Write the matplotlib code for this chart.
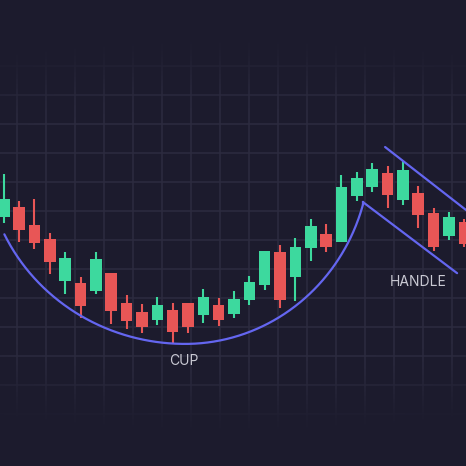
import numpy as np
import matplotlib
matplotlib.use("Agg")
import matplotlib.pyplot as plt

# candle data (price units)
opens = [77.7, 81.1, 75.1, 70.1, 55.7, 54.9, 52.2, 58.3, 48.1, 45.1, 42.2, 45.8, 48.2, 44.1, 47.3, 44.3,
         49.2, 54.2, 65.8, 57.2, 67.0, 71.8, 69.0, 85.1, 88.1, 93.0, 83.7, 86.1, 79.0, 71.2, 76.0]
highs = [92.6, 83.3, 84.0, 72.3, 65.7, 57.2, 65.7, 58.3, 50.8, 47.8, 50.1, 48.0, 48.2, 52.9, 49.8, 52.2,
         57.4, 65.9, 68.1, 70.4, 77.0, 75.2, 92.2, 93.3, 96.5, 95.3, 97.2, 88.4, 80.9, 79.6, 77.0]
lows = [75.8, 69.0, 66.8, 58.0, 51.2, 42.8, 51.2, 40.9, 39.2, 37.9, 40.5, 34.0, 37.9, 41.3, 40.2, 42.8,
        47.5, 52.5, 46.5, 48.8, 62.7, 65.7, 69.0, 83.3, 86.4, 80.9, 82.0, 73.9, 66.0, 69.8, 67.3]
closes = [83.9, 73.4, 68.7, 62.3, 63.5, 47.2, 63.3, 45.3, 42.0, 39.9, 47.4, 38.2, 39.7, 50.3, 42.1, 49.5,
          55.2, 65.9, 49.1, 67.4, 74.7, 67.4, 88.2, 91.3, 94.2, 85.3, 94.0, 78.3, 67.3, 77.7, 68.4]

# pattern annotations (index, price)
cup_center = (11.81, 34.0)
cup_left_end, cup_right_end = 0.04, 23.4
cup_axes_left, cup_axes_right, cup_depth = 13.03, 12.05, 66.2
handle_lower = [(23.4, 82.9), (29.53, 58.4)]
handle_upper = [(24.84, 101.9), (30.4, 79.0)]
labels = [("CUP", 11.7, 28.2), ("HANDLE", 27.0, 55.4)]

BG = "#1c1b2d"
GRID = "#2c2b40"
GREEN = "#3dd99e"
RED = "#e85656"
BLUE = "#6466f0"
TEXT = "#c9c9d3"

fig = plt.figure(figsize=(4.66, 4.66), dpi=100, facecolor=BG)
ax = fig.add_axes([0, 0, 1, 1])
ax.set_facecolor(BG)
x0, x1 = -0.244, 30.11
y0, y1 = -8.1, 152.6

# grid
for gx in np.arange(17.3, 470, 29):
    ax.axvline((gx - 3.75) / 15.35, color=GRID, lw=1.1, zorder=0.5)
for gy in range(0, 160, 10):
    ax.axhline(gy, color=GRID, lw=1.1, zorder=0.5)

# fade the grid towards the edges
yy, xx = np.mgrid[0:466, 0:466]
r = np.sqrt(((xx - 233) / 700.0) ** 2 + ((yy - 235) / 215.0) ** 2)
a = np.clip((r - 0.58) / 0.38, 0, 1)
a = a * a * (3 - 2 * a)
fade = np.zeros((466, 466, 4))
fade[..., :3] = matplotlib.colors.to_rgb(BG)
fade[..., 3] = a
ax.imshow(fade, extent=[x0, x1, y0, y1], origin="upper", aspect="auto", zorder=1,
          interpolation="bilinear")

# candles
idx = np.arange(len(opens))
o = np.array(opens)
c = np.array(closes)
cols = [GREEN if cc >= oo else RED for oo, cc in zip(o, c)]
ax.vlines(idx, lows, highs, colors=cols, lw=1.5, zorder=2)
ax.bar(idx, c - o, bottom=o, width=0.75, color=cols, zorder=3)

# cup curve
cx, cy = cup_center
xl = np.linspace(cup_left_end, cx, 200)
yl = cy + cup_depth * (1 - np.sqrt(1 - ((xl - cx) / cup_axes_left) ** 2))
xr = np.linspace(cx, cup_right_end, 200)
yr = cy + cup_depth * (1 - np.sqrt(1 - ((xr - cx) / cup_axes_right) ** 2))
ax.plot(np.r_[xl, xr], np.r_[yl, yr], color=BLUE, lw=1.6, zorder=4, solid_capstyle="round")

# handle channel
for seg in (handle_lower, handle_upper):
    ax.plot([seg[0][0], seg[1][0]], [seg[0][1], seg[1][1]], color=BLUE, lw=1.6, zorder=4,
            solid_capstyle="round")
ax.plot([cup_right_end, handle_lower[0][0]], [yr[-1], handle_lower[0][1]], color=BLUE, lw=1.6, zorder=4)

for txt, tx, ty in labels:
    ax.text(tx, ty, txt, color=TEXT, fontsize=10, ha="center", va="center",
            family=["Inter", "DejaVu Sans"], zorder=5)

ax.set_xlim(x0, x1)
ax.set_ylim(y0, y1)
ax.axis("off")
fig.savefig("out.png", dpi=100, facecolor=BG)
